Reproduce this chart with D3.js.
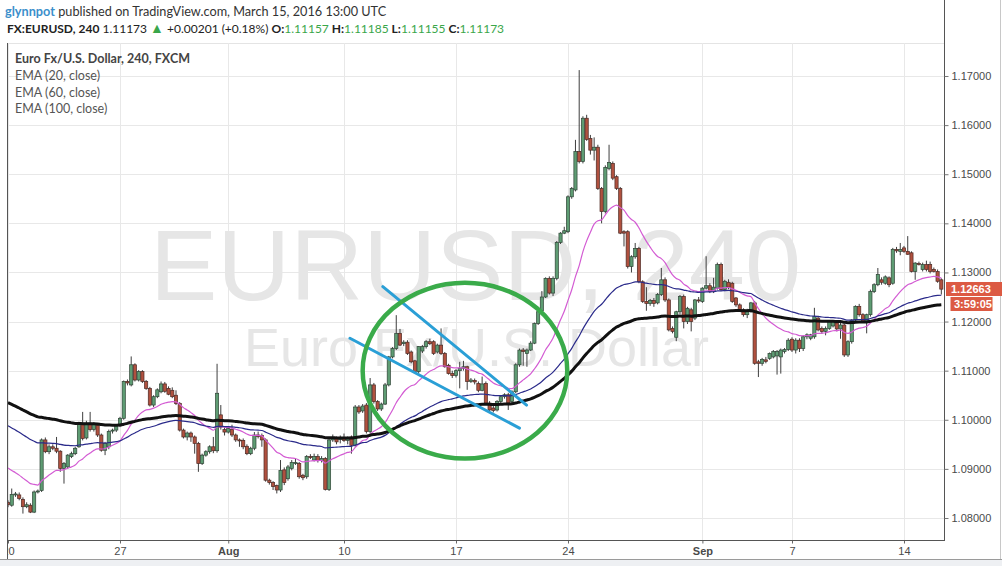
<!DOCTYPE html>
<html><head><meta charset="utf-8">
<script src="https://cdn.jsdelivr.net/npm/d3@7"></script>
<style>html,body{margin:0;padding:0;background:#fff}svg{display:block}</style>
</head><body>
<svg id="chart" width="1002" height="566"></svg>
<script>
// ---------------- DATA ----------------
// 4h candles, EUR/USD (FXCM), bar 0 = Jul 20 00:00 ; [open, high, low, close]
const ohlc = [
[1.0832,1.0836,1.0822,1.0827],[1.0826,1.0860,1.0823,1.0848],[1.0848,1.0853,1.0843,1.0849],[1.0847,1.0852,1.0836,1.0840],
[1.0838,1.0842,1.0809,1.0823],[1.0823,1.0832,1.0820,1.0827],[1.0826,1.0830,1.0810,1.0812],[1.0812,1.0856,1.0810,1.0853],
[1.0853,1.0858,1.0850,1.0855],[1.0856,1.0962,1.0853,1.0959],[1.0959,1.0964,1.0932,1.0935],[1.0935,1.0950,1.0930,1.0945],
[1.0945,1.0950,1.0938,1.0942],[1.0942,1.0965,1.0932,1.0936],[1.0936,1.0938,1.0894,1.0901],[1.0901,1.0914,1.0870,1.0911],
[1.0904,1.0930,1.0900,1.0928],[1.0925,1.0935,1.0922,1.0931],[1.0931,1.0945,1.0928,1.0942],[1.0945,1.0996,1.0943,1.0993],
[1.0993,1.1016,1.0958,1.0962],[1.0963,1.0998,1.0960,1.0993],[1.0993,1.1016,1.0976,1.0980],[1.0980,1.0995,1.0976,1.0990],
[1.0989,1.0993,1.0965,1.0969],[1.0969,1.0972,1.0935,1.0938],[1.0938,1.0955,1.0928,1.0952],[1.0945,1.0980,1.0940,1.0976],
[1.0977,1.0982,1.0972,1.0979],[1.0979,1.0990,1.0975,1.0988],[1.0989,1.1006,1.0985,1.1003],[1.1003,1.1080,1.1000,1.1078],
[1.1078,1.1082,1.1070,1.1075],[1.1071,1.1129,1.1068,1.1112],[1.1112,1.1115,1.1078,1.1081],[1.1081,1.1101,1.1078,1.1098],
[1.1098,1.1101,1.1075,1.1078],[1.1078,1.1081,1.1061,1.1064],[1.1064,1.1067,1.1027,1.1030],[1.1030,1.1050,1.1026,1.1047],
[1.1047,1.1064,1.1044,1.1061],[1.1057,1.1078,1.1054,1.1073],[1.1073,1.1077,1.1055,1.1058],[1.1064,1.1068,1.1050,1.1052],
[1.1060,1.1066,1.1044,1.1047],[1.1050,1.1060,1.1030,1.1033],[1.1033,1.1036,1.0976,1.0979],[1.0979,1.0982,1.0962,1.0965],
[1.0965,1.0976,1.0958,1.0973],[1.0973,1.0976,1.0955,1.0965],[1.0965,1.0968,1.0931,1.0952],[1.0952,1.0955,1.0894,1.0911],
[1.0911,1.0931,1.0908,1.0928],[1.0928,1.0938,1.0925,1.0935],[1.0935,1.0948,1.0931,1.0945],[1.0945,1.0965,1.0932,1.0937],
[1.0937,1.1114,1.0933,1.1054],[1.1010,1.1030,1.0980,1.0985],[1.0980,1.0984,1.0968,1.0975],[1.0975,1.0986,1.0972,1.0982],
[1.0980,1.0990,1.0965,1.0969],[1.0969,1.0972,1.0955,1.0959],[1.0959,1.0962,1.0945,1.0957],[1.0958,1.0962,1.0940,1.0945],
[1.0946,1.0950,1.0928,1.0931],[1.0931,1.0945,1.0928,1.0942],[1.0942,1.0975,1.0938,1.0969],[1.0969,1.0976,1.0962,1.0966],
[1.0968,1.0972,1.0945,1.0959],[1.0959,1.0962,1.0874,1.0877],[1.0877,1.0880,1.0868,1.0872],[1.0872,1.0875,1.0857,1.0864],
[1.0866,1.0868,1.0850,1.0857],[1.0857,1.0918,1.0853,1.0897],[1.0898,1.0903,1.0867,1.0872],[1.0880,1.0908,1.0876,1.0904],
[1.0901,1.0918,1.0897,1.0913],[1.0912,1.0921,1.0908,1.0913],[1.0911,1.0914,1.0880,1.0884],[1.0887,1.0890,1.0877,1.0882],
[1.0884,1.0928,1.0880,1.0925],[1.0925,1.0930,1.0920,1.0924],[1.0918,1.0931,1.0915,1.0925],[1.0925,1.0930,1.0913,1.0917],
[1.0917,1.0926,1.0913,1.0921],[1.0921,1.0924,1.0856,1.0858],[1.0858,1.0965,1.0855,1.0959],[1.0959,1.0970,1.0955,1.0963],
[1.0962,1.0966,1.0950,1.0955],[1.0960,1.0968,1.0952,1.0964],[1.0964,1.0972,1.0955,1.0958],[1.0958,1.0966,1.0950,1.0962],
[1.0965,1.0968,1.0931,1.0948],[1.0948,1.1030,1.0945,1.1026],[1.1026,1.1030,1.1012,1.1016],[1.1018,1.1032,1.1014,1.1028],
[1.1030,1.1034,1.0972,1.0976],[1.0976,1.1085,1.0972,1.1071],[1.1071,1.1075,1.1033,1.1037],[1.1037,1.1040,1.1018,1.1022],
[1.1022,1.1035,1.1018,1.1032],[1.1032,1.1075,1.1030,1.1071],[1.1071,1.1130,1.1068,1.1128],[1.1128,1.1148,1.1125,1.1145],
[1.1145,1.1213,1.1142,1.1176],[1.1176,1.1185,1.1150,1.1152],[1.1155,1.1162,1.1150,1.1158],[1.1158,1.1162,1.1132,1.1135],
[1.1138,1.1141,1.1115,1.1118],[1.1120,1.1122,1.1094,1.1098],[1.1098,1.1150,1.1094,1.1149],[1.1140,1.1152,1.1136,1.1149],
[1.1149,1.1162,1.1145,1.1159],[1.1159,1.1165,1.1152,1.1155],[1.1159,1.1162,1.1132,1.1135],[1.1138,1.1155,1.1135,1.1152],
[1.1152,1.1186,1.1132,1.1135],[1.1135,1.1138,1.1106,1.1108],[1.1111,1.1114,1.1092,1.1094],[1.1094,1.1100,1.1085,1.1090],
[1.1090,1.1103,1.1086,1.1100],[1.1100,1.1118,1.1064,1.1105],[1.1105,1.1120,1.1100,1.1108],[1.1108,1.1110,1.1061,1.1078],
[1.1078,1.1085,1.1075,1.1081],[1.1080,1.1084,1.1072,1.1077],[1.1074,1.1078,1.1056,1.1060],[1.1060,1.1088,1.1058,1.1073],
[1.1074,1.1078,1.1032,1.1034],[1.1034,1.1038,1.1018,1.1020],[1.1024,1.1030,1.1015,1.1019],[1.1020,1.1040,1.1017,1.1037],
[1.1037,1.1050,1.1034,1.1047],[1.1047,1.1054,1.1043,1.1051],[1.1051,1.1055,1.1020,1.1034],[1.1037,1.1060,1.1034,1.1057],
[1.1057,1.1115,1.1054,1.1112],[1.1112,1.1145,1.1108,1.1142],[1.1142,1.1146,1.1110,1.1139],[1.1135,1.1145,1.1108,1.1142],
[1.1142,1.1160,1.1140,1.1156],[1.1156,1.1198,1.1154,1.1196],[1.1196,1.1222,1.1193,1.1220],[1.1222,1.1262,1.1218,1.1250],
[1.1250,1.1290,1.1248,1.1288],[1.1288,1.1292,1.1255,1.1258],[1.1258,1.1292,1.1252,1.1288],[1.1288,1.1364,1.1284,1.1361],
[1.1361,1.1382,1.1358,1.1380],[1.1380,1.1393,1.1378,1.1385],[1.1383,1.1457,1.1380,1.1454],[1.1454,1.1474,1.1450,1.1471],
[1.1468,1.1570,1.1465,1.1546],[1.1546,1.1712,1.1522,1.1526],[1.1526,1.1618,1.1522,1.1614],[1.1614,1.1621,1.1568,1.1571],
[1.1573,1.1580,1.1540,1.1549],[1.1549,1.1575,1.1528,1.1555],[1.1555,1.1560,1.1468,1.1471],[1.1471,1.1474,1.1400,1.1424],
[1.1424,1.1518,1.1420,1.1514],[1.1512,1.1560,1.1508,1.1524],[1.1522,1.1526,1.1488,1.1492],[1.1495,1.1498,1.1468,1.1471],
[1.1471,1.1474,1.1378,1.1380],[1.1383,1.1386,1.1353,1.1380],[1.1383,1.1386,1.1308,1.1312],[1.1312,1.1335,1.1300,1.1332],
[1.1332,1.1360,1.1328,1.1349],[1.1349,1.1352,1.1278,1.1281],[1.1281,1.1284,1.1238,1.1241],[1.1241,1.1270,1.1222,1.1237],
[1.1237,1.1246,1.1232,1.1243],[1.1243,1.1248,1.1230,1.1237],[1.1238,1.1258,1.1235,1.1255],[1.1255,1.1309,1.1252,1.1285],
[1.1285,1.1290,1.1240,1.1244],[1.1244,1.1247,1.1180,1.1183],[1.1186,1.1190,1.1176,1.1180],[1.1168,1.1222,1.1160,1.1220],
[1.1220,1.1254,1.1215,1.1251],[1.1251,1.1255,1.1186,1.1200],[1.1200,1.1230,1.1195,1.1227],[1.1224,1.1228,1.1180,1.1200],
[1.1207,1.1246,1.1203,1.1244],[1.1244,1.1250,1.1238,1.1242],[1.1241,1.1270,1.1238,1.1268],[1.1268,1.1333,1.1265,1.1273],
[1.1273,1.1278,1.1258,1.1261],[1.1262,1.1289,1.1258,1.1270],[1.1268,1.1320,1.1265,1.1316],[1.1316,1.1320,1.1262,1.1265],
[1.1265,1.1285,1.1262,1.1282],[1.1280,1.1286,1.1266,1.1270],[1.1278,1.1281,1.1238,1.1241],[1.1248,1.1250,1.1230,1.1234],
[1.1234,1.1237,1.1220,1.1224],[1.1224,1.1227,1.1210,1.1214],[1.1214,1.1226,1.1207,1.1222],[1.1220,1.1240,1.1218,1.1238],
[1.1238,1.1242,1.1112,1.1115],[1.1118,1.1122,1.1087,1.1115],[1.1115,1.1126,1.1110,1.1123],[1.1122,1.1128,1.1115,1.1119],
[1.1125,1.1137,1.1122,1.1135],[1.1128,1.1142,1.1125,1.1139],[1.1130,1.1142,1.1092,1.1139],[1.1128,1.1145,1.1094,1.1142],
[1.1139,1.1146,1.1135,1.1143],[1.1143,1.1166,1.1140,1.1162],[1.1164,1.1168,1.1138,1.1142],[1.1142,1.1166,1.1135,1.1162],
[1.1162,1.1166,1.1138,1.1145],[1.1145,1.1172,1.1140,1.1169],[1.1169,1.1176,1.1164,1.1173],[1.1166,1.1175,1.1162,1.1173],
[1.1169,1.1228,1.1165,1.1210],[1.1207,1.1212,1.1180,1.1183],[1.1186,1.1190,1.1175,1.1180],[1.1180,1.1190,1.1172,1.1186],
[1.1186,1.1203,1.1183,1.1200],[1.1191,1.1203,1.1188,1.1200],[1.1197,1.1202,1.1180,1.1185],[1.1185,1.1200,1.1165,1.1193],
[1.1193,1.1196,1.1128,1.1132],[1.1132,1.1162,1.1128,1.1159],[1.1159,1.1205,1.1155,1.1203],[1.1203,1.1233,1.1200,1.1231],
[1.1231,1.1236,1.1210,1.1214],[1.1214,1.1217,1.1198,1.1200],[1.1198,1.1216,1.1176,1.1214],[1.1214,1.1265,1.1210,1.1261],
[1.1261,1.1278,1.1258,1.1275],[1.1275,1.1309,1.1272,1.1296],[1.1285,1.1290,1.1275,1.1280],[1.1278,1.1294,1.1275,1.1291],
[1.1289,1.1292,1.1270,1.1275],[1.1278,1.1350,1.1275,1.1347],[1.1347,1.1352,1.1340,1.1344],[1.1343,1.1360,1.1335,1.1347],
[1.1350,1.1354,1.1340,1.1343],[1.1343,1.1374,1.1336,1.1337],[1.1340,1.1343,1.1300,1.1302],[1.1302,1.1321,1.1285,1.1319],
[1.1318,1.1322,1.1314,1.1316],[1.1306,1.1320,1.1302,1.1316],[1.1316,1.1324,1.1302,1.1306],[1.1316,1.1322,1.1298,1.1302],
[1.1306,1.1310,1.1300,1.1302],[1.1302,1.1306,1.1279,1.1282],[1.1285,1.1288,1.1255,1.1266]
];
// EMA values at the first visible bar (carried in from earlier history)
const emaPeriods = [20, 60, 100];
const emaSeeds   = [1.0902, 1.0988, 1.1035];
const emaNames   = ["EMA (20, close)", "EMA (60, close)", "EMA (100, close)"];

const priceTicks = [1.08,1.09,1.10,1.11,1.12,1.13,1.14,1.15,1.16,1.17];
const timeTickBars   = [0, 30, 59, 90, 120, 150, 186, 210, 240];
const timeTickLabels = ["20","27","Aug","10","17","24","Sep","7","14"];
const monthLabels = ["Aug","Sep"];

const lastPrice = 1.12663;
const countdown = "3:59:05";

// drawings: two trend lines and an ellipse in (bar, price) coordinates
const trendLines = [
  [[100.4, 1.1271], [138.9, 1.1030]],
  [[91.6, 1.1166], [137.0, 1.0983]]
];
const ellipseMark = {bar: 122.4, price: 1.1100, rBars: 27.4, rPrice: 0.01788};

// ---------------- LAYOUT ----------------
const W = 1002, H = 566;
const pane = {left: 7, right: 944, top: 43, bottom: 540};
const svg = d3.select("#chart");
const sans = "Lato, 'Open Sans', sans-serif";
const axisFont = "'Liberation Sans', Arial, sans-serif";

const x = d3.scaleLinear().domain([0, 250]).range([8, 8 + 250 * 3.7333]);
const y = d3.scaleLinear().domain([1.08, 1.17]).range([518, 76]);

// background frame
svg.append("rect").attr("x",0).attr("y",0).attr("width",W).attr("height",H).attr("fill","#ffffff");
svg.append("rect").attr("x",0).attr("y",559).attr("width",W).attr("height",H-559).attr("fill","#eef0f3");
svg.append("line").attr("x1",0).attr("x2",W).attr("y1",559.5).attr("y2",559.5).attr("stroke","#9a9a9a");
svg.append("line").attr("x1",1000.5).attr("x2",1000.5).attr("y1",0).attr("y2",559).attr("stroke","#c8c8c8");
svg.append("line").attr("x1",pane.left).attr("x2",pane.right).attr("y1",pane.top+0.5).attr("y2",pane.top+0.5).attr("stroke","#e4e4e4");

const defs = svg.append("defs");
defs.append("clipPath").attr("id","paneClip")
  .append("rect").attr("x",pane.left).attr("y",pane.top).attr("width",pane.right-pane.left).attr("height",pane.bottom-pane.top);
defs.append("clipPath").attr("id","timeClip")
  .append("rect").attr("x",pane.left+0.5).attr("y",pane.bottom).attr("width",pane.right-pane.left).attr("height",20);

const plot = svg.append("g").attr("clip-path","url(#paneClip)");

// grid
plot.selectAll(".hg").data(priceTicks).join("line")
  .attr("x1",pane.left).attr("x2",pane.right)
  .attr("y1",d=>Math.round(y(d))+0.5).attr("y2",d=>Math.round(y(d))+0.5)
  .attr("stroke","#e8e8e8");
plot.selectAll(".vg").data(timeTickBars).join("line")
  .attr("y1",pane.top).attr("y2",pane.bottom)
  .attr("x1",d=>Math.round(x(d))+0.5).attr("x2",d=>Math.round(x(d))+0.5)
  .attr("stroke","#e8e8e8");

// watermark
plot.append("text").attr("x",(pane.left+pane.right)/2).attr("y",300)
  .attr("text-anchor","middle").attr("font-family","'Liberation Sans', Arial, sans-serif")
  .attr("font-size",101).attr("fill","#e6e6e6").text("EURUSD, 240");
plot.append("text").attr("x",(pane.left+pane.right)/2+1).attr("y",366)
  .attr("text-anchor","middle").attr("font-family","'Liberation Sans', Arial, sans-serif")
  .attr("font-size",54).attr("fill","#e6e6e6").text("Euro Fx/U.S. Dollar");

// candles
const candles = plot.append("g");
const bw = 3.2;
const upFill = "#5e9c73", upStroke = "#2f4537", dnFill = "#b0513f", dnStroke = "#4d2a24";
candles.selectAll(".wick").data(ohlc).join("line")
  .attr("x1",(d,i)=>x(i)).attr("x2",(d,i)=>x(i))
  .attr("y1",d=>y(d[1])).attr("y2",d=>y(d[2]))
  .attr("stroke","#3e3e3e").attr("stroke-width",1);
candles.selectAll(".body").data(ohlc).join("rect")
  .attr("x",(d,i)=>x(i)-bw/2).attr("width",bw)
  .attr("y",d=>y(Math.max(d[0],d[3])))
  .attr("height",d=>Math.max(1,Math.abs(y(d[0])-y(d[3]))))
  .attr("fill",d=>d[3]>=d[0]?upFill:dnFill)
  .attr("stroke",d=>d[3]>=d[0]?upStroke:dnStroke).attr("stroke-width",0.7);

// EMAs
const closes = ohlc.map(d=>d[3]);
function ema(period, seed){
  const a = 2/(period+1); const out=[]; let v = seed;
  closes.forEach((c,i)=>{ if(i>0) v = v + a*(c-v); out.push(v); });
  return out;
}
const emaStyles = [{c:"#d35bd3",w:1.2},{c:"#2a2a8a",w:1.2},{c:"#111111",w:3}];
const lineGen = d3.line().x((d,i)=>x(i)).y(d=>y(d)).curve(d3.curveMonotoneX);
emaPeriods.forEach((p,k)=>{
  plot.append("path").datum(ema(p, emaSeeds[k])).attr("d",lineGen)
    .attr("fill","none").attr("stroke",emaStyles[k].c).attr("stroke-width",emaStyles[k].w)
    .attr("stroke-linejoin","round");
});

// drawings
trendLines.forEach(l=>{
  plot.append("line").attr("x1",x(l[0][0])).attr("y1",y(l[0][1]))
    .attr("x2",x(l[1][0])).attr("y2",y(l[1][1]))
    .attr("stroke","#2a9fd6").attr("stroke-width",3).attr("stroke-linecap","round");
});
plot.append("ellipse").attr("cx",x(ellipseMark.bar)).attr("cy",y(ellipseMark.price))
  .attr("rx",x(ellipseMark.bar+ellipseMark.rBars)-x(ellipseMark.bar))
  .attr("ry",y(ellipseMark.price-ellipseMark.rPrice)-y(ellipseMark.price))
  .attr("fill","none").attr("stroke","#3aab4a").attr("stroke-width",4.5);

// axes
const yAxis = d3.axisRight(y).tickValues(priceTicks).tickFormat(d3.format(".5f")).tickSize(4).tickPadding(3);
const yg = svg.append("g").attr("transform",`translate(${pane.right+0.5},0)`).call(yAxis);
yg.select(".domain").attr("d",`M0,0V${pane.bottom+0.5}`).attr("stroke","#555");
yg.selectAll(".tick line").attr("stroke","#777");
yg.selectAll("text").attr("font-family",axisFont).attr("font-size",11).attr("fill","#4a4a4a");

const xAxis = d3.axisBottom(x).tickValues(timeTickBars).tickFormat((d,i)=>timeTickLabels[i]).tickSize(3).tickPadding(4);
const xWrap = svg.append("g").attr("clip-path","url(#timeClip)");
const xg = xWrap.append("g").attr("transform",`translate(0,${pane.bottom+0.5})`).call(xAxis);
xg.select(".domain").remove();
xg.selectAll(".tick line").attr("stroke","#666");
xg.selectAll("text").attr("font-family",axisFont).attr("font-size",11).attr("fill","#4a4a4a")
  .attr("font-weight",(d,i)=>monthLabels.includes(timeTickLabels[i])?"bold":"normal");
svg.append("line").attr("x1",pane.left).attr("x2",pane.right+1).attr("y1",pane.bottom+0.5).attr("y2",pane.bottom+0.5).attr("stroke","#555");
svg.append("line").attr("x1",pane.left+0.5).attr("x2",pane.left+0.5).attr("y1",pane.top).attr("y2",559).attr("stroke","#555");

// last price labels
const ly = y(lastPrice);
svg.append("rect").attr("x",pane.right+2).attr("y",ly-7).attr("width",W-pane.right-2).attr("height",14).attr("fill","#dc5a43");
svg.append("text").attr("x",pane.right+7).attr("y",ly+4).attr("font-family",axisFont).attr("font-size",11)
  .attr("font-weight","bold").attr("fill","#fff").text(d3.format(".5f")(lastPrice));
svg.append("rect").attr("x",pane.right+6.5).attr("y",ly+8).attr("width",42).attr("height",14).attr("fill","#dc5a43");
svg.append("text").attr("x",pane.right+10).attr("y",ly+19).attr("font-family",axisFont).attr("font-size",11)
  .attr("font-weight","bold").attr("fill","#fff").text(countdown);

// legend
const lg = svg.append("g").attr("font-family",sans).attr("font-size",12.5).attr("fill","#555");
lg.append("text").attr("x",15).attr("y",63).attr("font-weight","bold").attr("fill","#444").text("Euro Fx/U.S. Dollar, 240, FXCM");
emaNames.forEach((n,i)=>lg.append("text").attr("x",15).attr("y",80+i*16.5).text(n));

// header
const h1 = svg.append("text").attr("x",5).attr("y",16).attr("font-family",sans).attr("font-size",12.7).attr("fill","#333");
h1.append("tspan").attr("font-weight","bold").attr("fill","#3b8fcb").text("glynnpot");
h1.append("tspan").text(" published on TradingView.com, March 15, 2016 13:00 UTC");
const green = "#3aa64a";
const h2 = svg.append("text").attr("x",7).attr("y",33).attr("font-family",sans).attr("font-size",12).attr("fill","#222");
h2.append("tspan").attr("font-weight","bold").text("FX:EURUSD, 240");
h2.append("tspan").text(" 1.11173 ");
h2.append("tspan").attr("fill",green).attr("font-size",14).text("▲");
h2.append("tspan").text(" +0.00201 (+0.18%) ");
[["O:","1.11157"],["H:","1.11185"],["L:","1.11155"],["C:","1.11173"]].forEach(([k,v],i)=>{
  h2.append("tspan").attr("font-weight","bold").text((i?" ":"")+k);
  h2.append("tspan").attr("fill",green).text(v);
});
</script>
</body></html>
